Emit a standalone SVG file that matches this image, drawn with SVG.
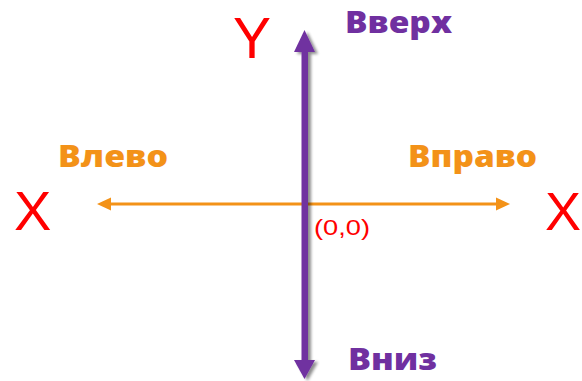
<svg xmlns="http://www.w3.org/2000/svg" width="582" height="381" viewBox="0 0 582 381">
<style>
.lbl{font-family:"Open Sans","Liberation Sans",sans-serif;font-weight:800;font-size:30px}
.ax{font-family:"Liberation Sans",Arial,sans-serif;fill:#FF0000}
</style>
<defs>
<filter id="sh" x="-50%" y="-5%" width="200%" height="110%">
<feGaussianBlur in="SourceAlpha" stdDeviation="1.5"/>
<feOffset dx="3" dy="2" result="b"/>
<feComponentTransfer><feFuncA type="linear" slope="0.45"/></feComponentTransfer>
<feMerge><feMergeNode/><feMergeNode in="SourceGraphic"/></feMerge>
</filter>
</defs>
<rect width="582" height="381" fill="#fff"/>
<g id="connectors">
<g id="h-axis" fill="#F39218">
<rect x="108" y="202.5" width="390" height="3"/>
<polygon points="97,204 111,197.5 111,210.5"/>
<polygon points="510,204 496,197.5 496,210.5"/>
</g>
<g id="v-axis" fill="#7030A0" filter="url(#sh)">
<rect x="301.5" y="50" width="6.5" height="315"/>
<polygon points="304.5,30 294,52 315,52"/>
<polygon points="304.5,379 294,360 315,360"/>
</g>
</g>
<g id="label-up"><text class="lbl" x="345" y="33" fill="#7030A0" textLength="107" lengthAdjust="spacingAndGlyphs">Вверх</text></g>
<g id="label-down"><text class="lbl" x="348" y="370" fill="#7030A0" textLength="89" lengthAdjust="spacingAndGlyphs">Вниз</text></g>
<g id="label-left"><text class="lbl" x="58" y="167" fill="#F39218" textLength="110" lengthAdjust="spacingAndGlyphs">Влево</text></g>
<g id="label-right"><text class="lbl" x="408" y="167" fill="#F39218" textLength="129" lengthAdjust="spacingAndGlyphs">Вправо</text></g>
<g id="axis-y"><text class="ax" x="233" y="58" font-size="57">Y</text></g>
<g id="axis-x-left"><text class="ax" x="14" y="230" font-size="56">X</text></g>
<g id="axis-x-right"><text class="ax" x="545" y="230" font-size="54">X</text></g>
<g id="origin"><text class="ax" x="314" y="235" font-size="22" textLength="56" lengthAdjust="spacingAndGlyphs" font-family="Open Sans, Liberation Sans, sans-serif">(0,0)</text></g>
</svg>
